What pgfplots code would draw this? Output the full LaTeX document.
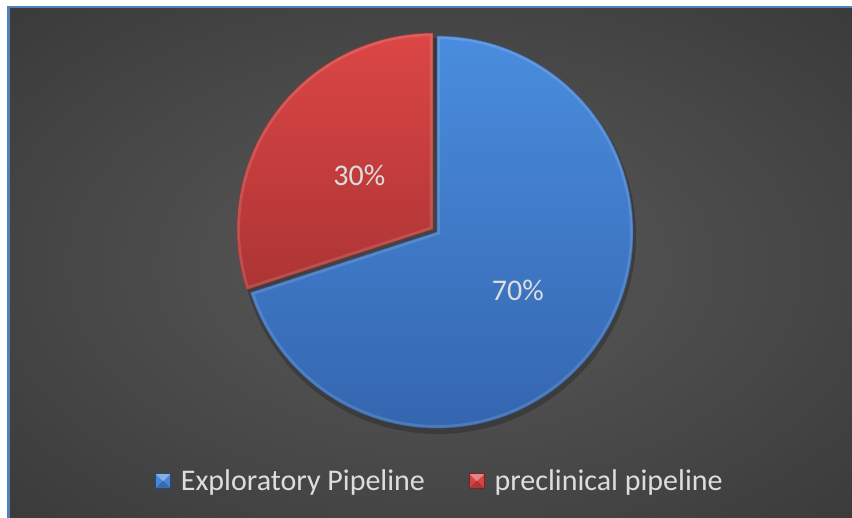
\documentclass[border=0pt]{standalone}
\usepackage{pgfplots}
\pgfplotsset{compat=1.18}
\usepackage{pgfplotstable}
\usepackage{fontspec}
\setmainfont{Carlito}

\definecolor{bgin}{HTML}{5A5A5A}
\definecolor{bgout}{HTML}{262626}
\definecolor{frame}{HTML}{4F81BD}
\definecolor{blueTop}{HTML}{4A8DDE}
\definecolor{blueBot}{HTML}{3466B0}
\definecolor{redTop}{HTML}{DC4646}
\definecolor{redBot}{HTML}{AD3434}
\definecolor{lbl}{HTML}{DDDDDD}

\pgfdeclareradialshading{chartbg}{\pgfpoint{0bp}{0bp}}{color(0bp)=(bgin); color(58bp)=(bgout); color(75bp)=(bgout)}

% legend swatch: small bevelled square
\pgfplotsset{swatch/.style={legend image code/.code={
  \fill[#1] (0bp,-7.5bp) rectangle (15bp,7.5bp);
  \fill[#1!65!white] (0bp,7.5bp) -- (15bp,7.5bp) -- (7.5bp,0bp) -- cycle;
  \fill[#1!80!black] (0bp,-7.5bp) -- (15bp,-7.5bp) -- (7.5bp,0bp) -- cycle;
  \draw[#1!55!black, line width=0.6bp] (0bp,-7.5bp) rectangle (15bp,7.5bp);
}}}

\pgfplotstableread{
label value
Exploratory 70
preclinical 30
}\piedata

\begin{document}
\begin{tikzpicture}
\useasboundingbox (0,0) rectangle (852bp,518bp);
\pgfplotstablegetelem{0}{value}\of\piedata \let\va\pgfplotsretval
\pgfplotstablegetelem{1}{value}\of\piedata \let\vb\pgfplotsretval
\pgfmathsetmacro\tot{\va+\vb}
\pgfmathsetmacro\aEnd{90-360*(\va/\tot)}
\pgfmathsetmacro\bEnd{\aEnd-360*(\vb/\tot)}
\pgfmathsetmacro\aMid{(90+\aEnd)/2}
\pgfmathsetmacro\bMid{(\aEnd+\bEnd)/2}
\pgfmathtruncatemacro\pa{round(100*(\va/\tot))}
\pgfmathtruncatemacro\pb{round(100*(\vb/\tot))}
\begin{axis}[
  at={(0,0)}, anchor=south west,
  scale only axis, width=852bp, height=518bp,
  xmin=0, xmax=852, ymin=0, ymax=518,
  disabledatascaling,
  hide axis, clip=false,
  legend columns=2,
  legend style={at={(0.5164,0.0714)}, anchor=center, draw=none, fill=none,
    text=lbl, font=\fontsize{30bp}{35bp}\selectfont,
    /tikz/every odd column/.append style={column sep=8bp},
    /tikz/every even column/.append style={column sep=42bp}},
]
% background
\fill[white] (-5,-5) rectangle (860,525);
\shade[shading=chartbg] (8,-6) rectangle (860,511);
\draw[frame, line width=2.5bp] (8.5,-6) -- (8.5,511) -- (860,511);

% soft shadow under pie
\fill[black, opacity=0.22] (438,282) circle[radius=198bp];

% Exploratory Pipeline
\shade[top color=blueTop, bottom color=blueBot, draw=blueBot!85!black, line width=0.8bp]
  (437,286) -- ++(90:196bp) arc[start angle=90, end angle=\aEnd, radius=196bp] -- cycle;
\begin{scope}
\clip (437,286) -- ++(90:196bp) arc[start angle=90, end angle=\aEnd, radius=196bp] -- cycle;
\draw[white, opacity=0.13, line width=6bp]
  (437,286) -- ++(90:196bp) arc[start angle=90, end angle=\aEnd, radius=196bp] -- cycle;
\end{scope}
% preclinical pipeline (pulled out a little)
\begin{scope}[shift={(\bMid:5bp)}]
\shade[top color=redTop, bottom color=redBot, draw=redBot!85!black, line width=0.8bp]
  (437,286) -- ++(\aEnd:196bp) arc[start angle=\aEnd, end angle=\bEnd, radius=196bp] -- cycle;
\clip (437,286) -- ++(\aEnd:196bp) arc[start angle=\aEnd, end angle=\bEnd, radius=196bp] -- cycle;
\draw[white, opacity=0.13, line width=6bp]
  (437,286) -- ++(\aEnd:196bp) arc[start angle=\aEnd, end angle=\bEnd, radius=196bp] -- cycle;
\end{scope}

% data labels
\node[text=lbl, font=\fontsize{30bp}{35bp}\selectfont, shift={(\aMid:100bp)}] at (437,286) {\pa\%};
\node[text=lbl, font=\fontsize{30bp}{35bp}\selectfont, shift={(\bMid:5bp)}, shift={(\bMid:91bp)}] at (437,286) {\pb\%};

\addlegendimage{swatch=blueTop!85!blueBot}
\addlegendentry{Exploratory Pipeline}
\addlegendimage{swatch=redTop!85!redBot}
\addlegendentry{preclinical pipeline}
\end{axis}
\end{tikzpicture}
\end{document}
